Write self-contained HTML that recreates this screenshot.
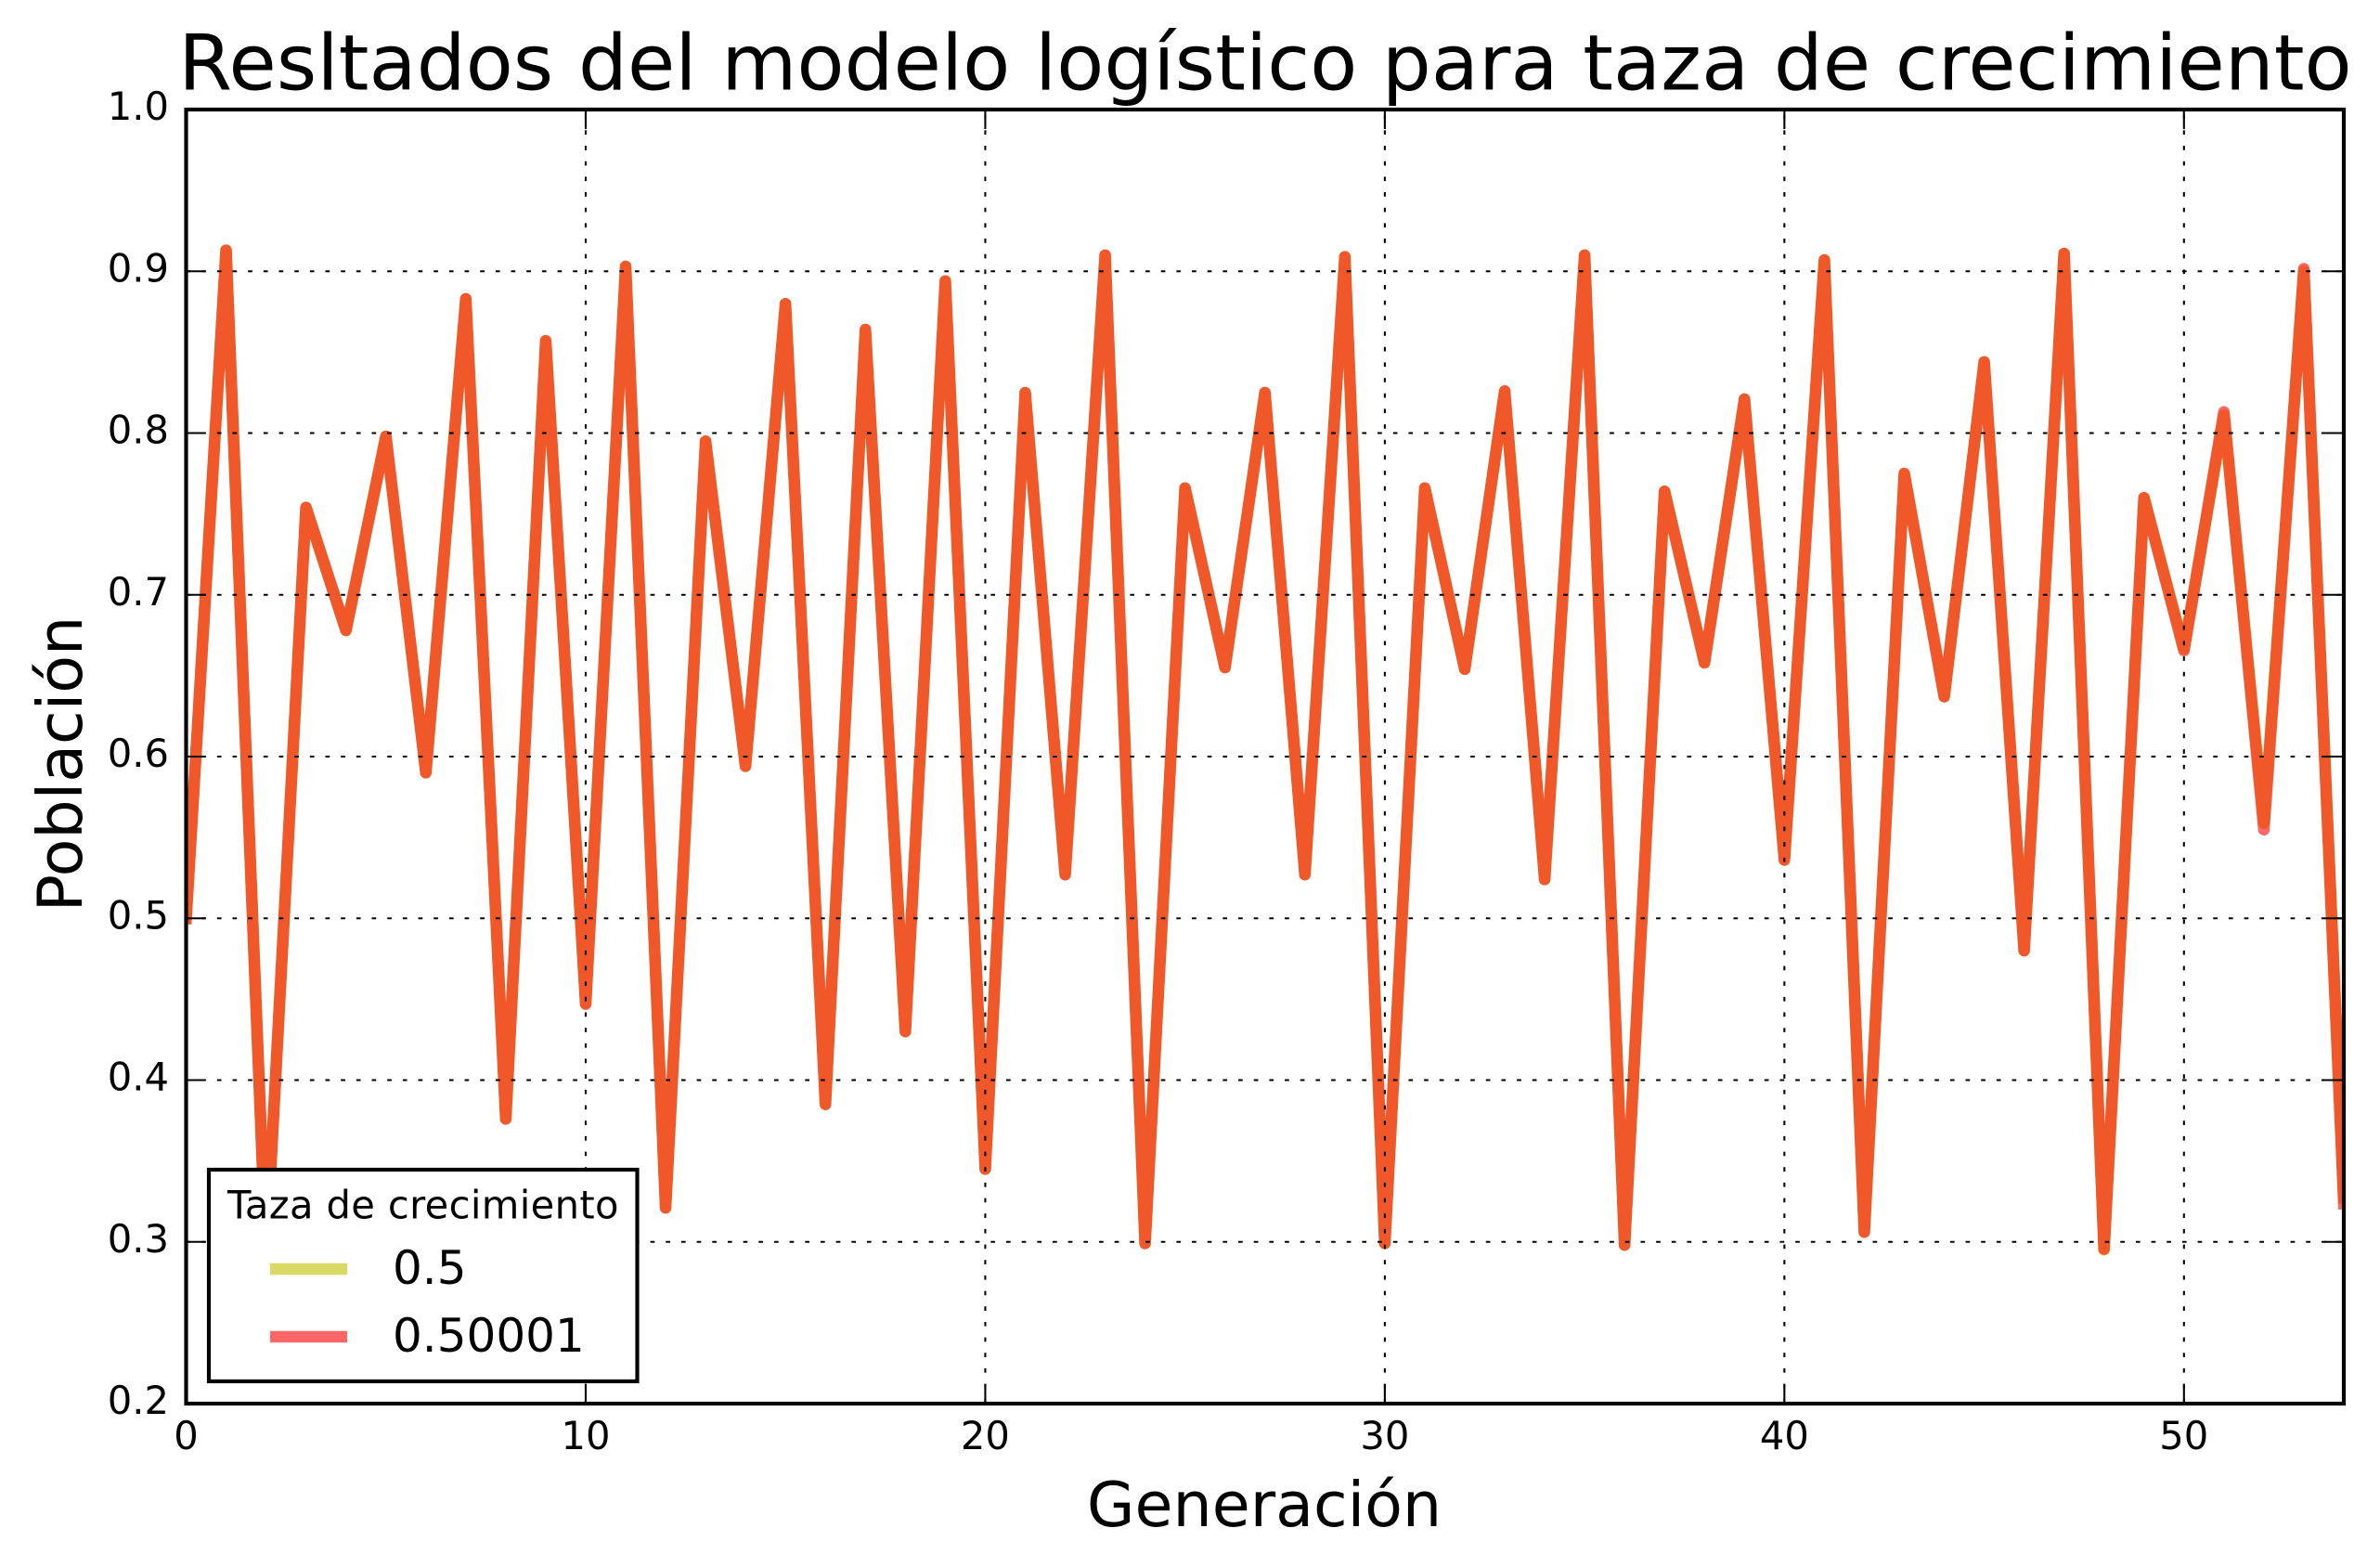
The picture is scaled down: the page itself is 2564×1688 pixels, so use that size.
<!DOCTYPE html>
<html lang="es">
<head>
<meta charset="utf-8">
<title>Resltados del modelo logístico</title>
<style>
html,body{margin:0;padding:0;background:#fff;}
svg{display:block;}
text{font-family:"DejaVu Sans",sans-serif;fill:#000;}
</style>
</head>
<body>
<svg id="chart" xmlns="http://www.w3.org/2000/svg" width="2564" height="1688" viewBox="0 0 2564 1688">
  <defs><clipPath id="plot-clip"><rect x="200.5" y="118" width="2324.5" height="1394"/></clipPath></defs>
  <rect x="0" y="0" width="2564" height="1688" fill="#fff"/>
  <g id="series" clip-path="url(#plot-clip)"></g>
  <g id="grid"></g>
  <g id="ticks"></g>
  <g id="tick-labels"></g>
  <rect x="200.5" y="118" width="2324.5" height="1394" fill="none" stroke="#000" stroke-width="4.17"/>
  <text x="1363" y="96.5" font-size="83.33" letter-spacing="0.12" text-anchor="middle">Resltados del modelo logístico para taza de crecimiento</text>
  <text x="1362" y="1644" font-size="66.67" text-anchor="middle">Generación</text>
  <text transform="translate(88 823) rotate(-90)" x="0" y="0" font-size="66.67" text-anchor="middle">Población</text>
  <g>
    <rect x="225" y="1260" width="461.5" height="228" fill="#fff" stroke="#000" stroke-width="4.17"/>
    <text x="245" y="1312.5" font-size="41.67" letter-spacing="0.35">Taza de crecimiento</text>
    <line x1="291" y1="1367" x2="374" y2="1367" stroke="#bfbf00" stroke-opacity="0.6" stroke-width="12.5"/>
    <text x="423" y="1383" font-size="50">0.5</text>
    <line x1="291" y1="1440" x2="374" y2="1440" stroke="#ff0000" stroke-opacity="0.6" stroke-width="12.5"/>
    <text x="423" y="1456" font-size="50">0.50001</text>
  </g>
</svg>
<script>
const xTickValues = [0, 10, 20, 30, 40, 50];
const yTickValues = [0.2, 0.3, 0.4, 0.5, 0.6, 0.7, 0.8, 0.9, 1.0];
const xTickLabels = ["0", "10", "20", "30", "40", "50"];
const yTickLabels = ["0.2", "0.3", "0.4", "0.5", "0.6", "0.7", "0.8", "0.9", "1.0"];
const generations = [0,1,2,3,4,5,6,7,8,9,10,11,12,13,14,15,16,17,18,19,20,21,22,23,24,25,26,27,28,29,30,31,32,33,34,35,36,37,38,39,40,41,42,43,44,45,46,47,48,49,50,51,52,53,54];
const seriesRate05 = [0.5,0.913,0.291,0.754,0.678,0.798,0.59,0.883,0.376,0.857,0.447,0.903,0.321,0.795,0.594,0.88,0.385,0.864,0.43,0.894,0.345,0.825,0.527,0.91,0.299,0.766,0.655,0.825,0.527,0.909,0.299,0.766,0.654,0.826,0.524,0.91,0.298,0.764,0.658,0.821,0.536,0.907,0.306,0.775,0.637,0.844,0.48,0.911,0.295,0.76,0.6665,0.811,0.5588,0.9,0.3275];
const seriesRate050001 = [0.5,0.913,0.291,0.754,0.678,0.798,0.59,0.883,0.376,0.857,0.447,0.903,0.321,0.795,0.594,0.88,0.385,0.864,0.43,0.894,0.345,0.825,0.527,0.91,0.299,0.766,0.655,0.825,0.527,0.909,0.299,0.766,0.654,0.826,0.524,0.91,0.298,0.764,0.658,0.821,0.536,0.907,0.306,0.775,0.637,0.844,0.48,0.911,0.2955,0.76,0.6655,0.8131,0.5548,0.9016,0.3237];

const NS = "http://www.w3.org/2000/svg";
const xScale = g => 200.5 + (g - 0) / 54 * 2324.5;
const yScale = v => 1512 - (v - 0.2) / 0.8 * 1394;

function make(parent, tag, attrs, text) {
  const el = document.createElementNS(NS, tag);
  for (const k in attrs) el.setAttribute(k, attrs[k]);
  if (text !== undefined) el.textContent = text;
  parent.appendChild(el);
  return el;
}

const gridG = document.getElementById("grid");
const ticksG = document.getElementById("ticks");
const labelsG = document.getElementById("tick-labels");
const seriesG = document.getElementById("series");
const dotted = {stroke: "#000", "stroke-width": 2.08, "stroke-dasharray": "4.7 11.97", fill: "none"};
const solid = {stroke: "#000", "stroke-width": 2.08, fill: "none"};

xTickValues.forEach((t, i) => {
  const x = xScale(t);
  if (t > 0) {
    const gl = make(gridG, "line", Object.assign({x1: x, y1: 1512, x2: x, y2: 118}, dotted));
    
    
    const a = make(ticksG, "line", Object.assign({x1: x, y1: 1512, x2: x, y2: 1491}, solid));
    
    
    const b = make(ticksG, "line", Object.assign({x1: x, y1: 118, x2: x, y2: 139}, solid));
    
    
  }
  const lbl = make(labelsG, "text", {x: x, y: 1561, "font-size": 41.67, "text-anchor": "middle"}, xTickLabels[i]);
  
  
});

yTickValues.forEach((t, i) => {
  const y = yScale(t);
  if (t > 0.2 && t < 1.0) {
    const gl = make(gridG, "line", Object.assign({x1: 200.5, y1: y, x2: 2525, y2: y}, dotted));
    
    
    const a = make(ticksG, "line", Object.assign({x1: 200.5, y1: y, x2: 221.5, y2: y}, solid));
    
    
    const b = make(ticksG, "line", Object.assign({x1: 2525, y1: y, x2: 2504, y2: y}, solid));
    
    
  }
  const lbl = make(labelsG, "text", {x: 182, y: y + 11, "font-size": 41.67, "text-anchor": "end"}, yTickLabels[i]);
  
  
});

function linePath(values) {
  return values.map((v, i) => (i ? "L" : "M") + xScale(generations[i]).toFixed(2) + " " + yScale(v).toFixed(2)).join(" ");
}
const lineA = make(seriesG, "path", {d: linePath(seriesRate05), fill: "none", stroke: "#bfbf00", "stroke-opacity": 0.6, "stroke-width": 12.5, "stroke-linejoin": "round", "stroke-linecap": "square"});


const lineB = make(seriesG, "path", {d: linePath(seriesRate050001), fill: "none", stroke: "#ff0000", "stroke-opacity": 0.6, "stroke-width": 12.5, "stroke-linejoin": "round", "stroke-linecap": "square"});


</script>
</body>
</html>
